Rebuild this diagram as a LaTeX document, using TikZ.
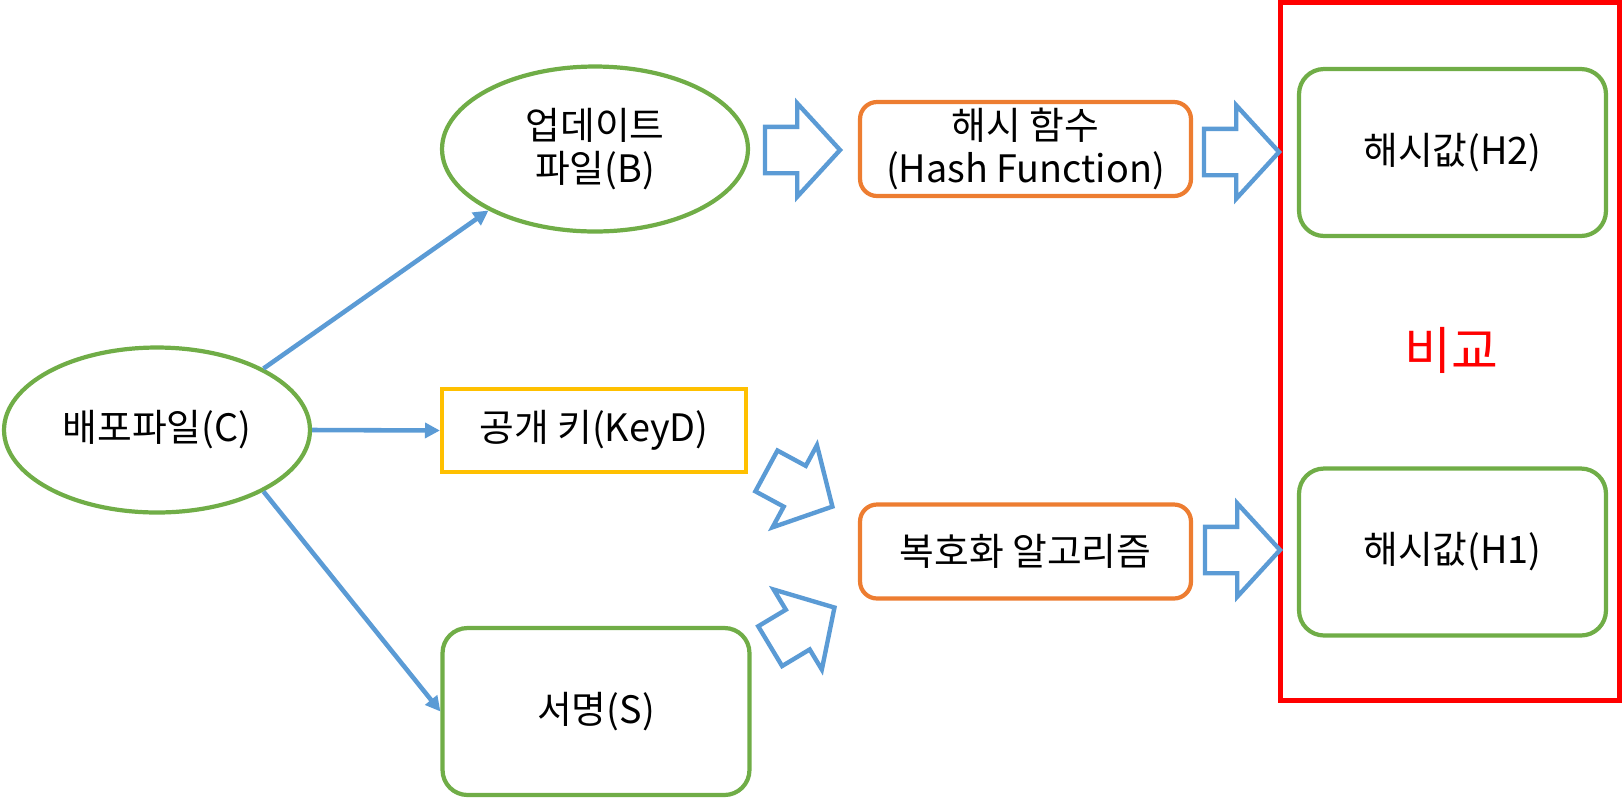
\documentclass[tikz,border=0pt]{standalone}
\usepackage{fontspec}
\setmainfont{Noto Sans CJK KR}
\usetikzlibrary{shapes.geometric,shapes.arrows,arrows.meta}
\definecolor{kgreen}{RGB}{112,173,71}
\definecolor{kblue}{RGB}{91,155,213}
\definecolor{korange}{RGB}{237,125,49}
\definecolor{kyellow}{RGB}{255,192,0}
\tikzset{
  lbl/.style={font=\fontsize{21.5}{24}\selectfont,align=center},
  oval/.style={lbl,ellipse,draw=kgreen,line width=2.4pt,minimum width=6.12cm,minimum height=3.3cm},
  keybox/.style={lbl,rectangle,draw=kyellow,line width=2.4pt,minimum width=6.08cm,minimum height=1.66cm},
  valbox/.style={lbl,rectangle,rounded corners=0.5cm,draw=kgreen,line width=2.4pt,minimum width=6.14cm,minimum height=3.34cm},
  procbox/.style={lbl,rectangle,rounded corners=0.34cm,draw=korange,line width=2.4pt,minimum width=6.62cm,minimum height=1.88cm},
  thinarrow/.style={draw=kblue,line width=2.6pt,-{Triangle[length=8.5pt,width=8.5pt]}},
  fatarrow/.style={single arrow,draw=kblue,line width=2.5pt,inner xsep=0pt,inner ysep=0.42cm,
    single arrow head extend=0.47cm,single arrow tip angle=95,minimum height=1.5cm,anchor=tip}
}
\begin{document}
\begin{tikzpicture}[x=0.02cm,y=-0.02cm]
  \useasboundingbox (0,0) rectangle (1622,799);
  \node[oval] (C) at (157,430) {배포파일(C)};
  \node[oval] (B) at (595,149) {업데이트\\파일(B)};
  \node[keybox] (K) at (594,430.5) {공개 키(KeyD)};
  \node[valbox] (S) at (596,711.5) {서명(S)};
  \node[procbox] (F) at (1025.5,149) {해시 함수\\(Hash Function)};
  \node[procbox] (D) at (1025.5,551.5) {복호화 알고리즘};
  \node[draw=red,line width=3.1pt,minimum width=6.78cm,minimum height=13.96cm] (cmp) at (1449.75,351.5) {};
  \node[valbox] (H2) at (1452.5,152.5) {해시값(H2)};
  \node[valbox] (H1) at (1452.5,552) {해시값(H1)};
  \node[text=red,font=\fontsize{29}{32}\selectfont] (vs) at (1451,350) {비교};
  \draw[thinarrow] (C.30) -- (B.210);
  \draw[thinarrow] (C.east) -- (K.west);
  \draw[thinarrow] (C.-30) -- (S.west);
  \foreach \p/\r/\n in {{(843,150)}/0/a1, {(1282,152)}/0/a2, {(1283,550)}/0/a3, {(835,508)}/-28.4/a4, {(837,606)}/31/a5}
    \node[fatarrow,rotate=\r] (\n) at \p {};
\end{tikzpicture}
\end{document}
